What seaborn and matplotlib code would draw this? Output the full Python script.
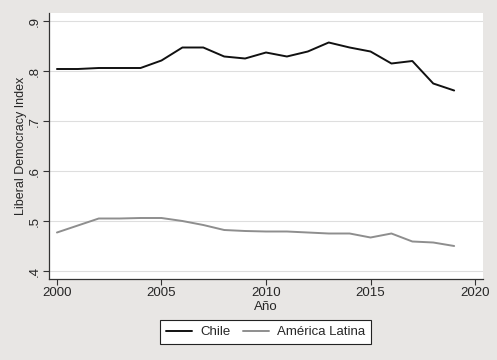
import matplotlib.pyplot as plt
import pandas as pd
import seaborn as sns

years = list(range(2000, 2020))
chile = [0.804, 0.804, 0.806, 0.806, 0.806, 0.821, 0.847, 0.847, 0.829, 0.825,
         0.837, 0.829, 0.839, 0.857, 0.847, 0.839, 0.815, 0.820, 0.775, 0.761]
latam = [0.477, 0.491, 0.505, 0.505, 0.506, 0.506, 0.500, 0.492, 0.482, 0.480,
         0.479, 0.479, 0.477, 0.475, 0.475, 0.467, 0.475, 0.459, 0.457, 0.450]
series = ['Chile', 'América Latina']
yticks = [0.4, 0.5, 0.6, 0.7, 0.8, 0.9]
ytick_labels = ['.4', '.5', '.6', '.7', '.8', '.9']
xticks = [2000, 2005, 2010, 2015, 2020]

df = pd.DataFrame({
    'year': years * 2,
    'value': chile + latam,
    'serie': [series[0]] * len(years) + [series[1]] * len(years),
})

sns.set_style('white')
plt.rcParams['font.family'] = ['Liberation Sans', 'DejaVu Sans']

bg = '#e8e6e4'
fig = plt.figure(figsize=(4.97, 3.6), dpi=100, facecolor=bg)
ax = fig.add_axes([49 / 497, 1 - 279 / 360, 434 / 497, 266 / 360])
ax.set_facecolor('white')

for y in yticks:
    ax.axhline(y, color='#dedede', lw=0.8, zorder=0)

sns.lineplot(data=df, x='year', y='value', hue='serie', hue_order=series,
             palette={'Chile': '#111111', 'América Latina': '#8e8e8e'},
             lw=1.4, ax=ax)

ax.set_xlim(1999.62, 2020.38)
ax.set_ylim(0.384, 0.916)
ax.set_xticks(xticks)
ax.set_yticks(yticks)
ax.set_yticklabels(ytick_labels, rotation=90, va='center')
ax.tick_params(axis='both', direction='out', length=4, width=0.8,
               color='#333333', labelsize=9.5, pad=2, left=True, bottom=True)
ax.set_xlabel('Año', fontsize=9.5, labelpad=1)
ax.set_ylabel('Liberal Democracy Index', fontsize=9, labelpad=1)

for s in ['top', 'right']:
    ax.spines[s].set_visible(False)
for s in ['left', 'bottom']:
    ax.spines[s].set_color('#333333')
    ax.spines[s].set_linewidth(0.9)

ax.legend(loc='upper center', bbox_to_anchor=((265.5 - 49) / 434, -0.155), ncol=2,
          frameon=True, fancybox=False, edgecolor='#222222', fontsize=9.5,
          handlelength=2.0, handletextpad=0.6, columnspacing=0.9,
          borderpad=0.45, borderaxespad=0, framealpha=1)
ax.get_legend().get_frame().set_linewidth(0.8)

plt.savefig('out.png', dpi=100, facecolor=bg)
